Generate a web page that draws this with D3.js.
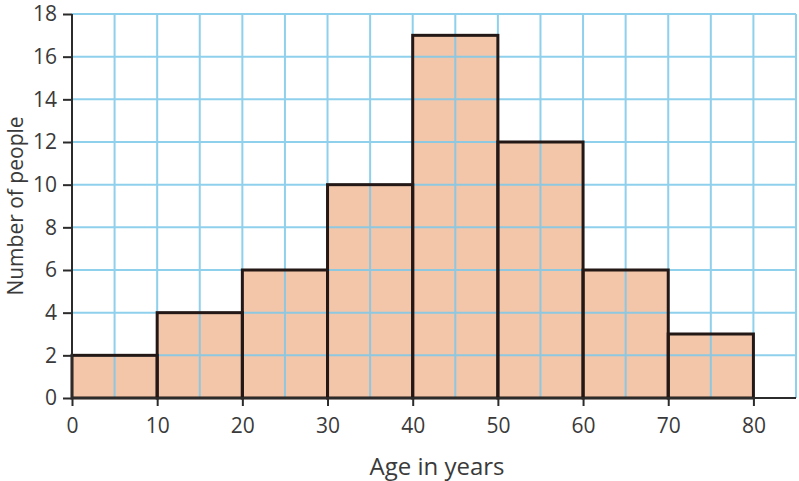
<!DOCTYPE html>
<html><head><meta charset="utf-8">
<script src="https://cdn.jsdelivr.net/npm/d3@7"></script>
<style>body{margin:0;background:#fff;} text{font-family:"Open Sans",sans-serif;}</style>
</head><body>
<svg id="c" width="799" height="481"></svg>
<script>
const binStarts = [0,10,20,30,40,50,60,70];
const binEnds = [10,20,30,40,50,60,70,80];
const counts = [2,4,6,10,17,12,6,3];
const xTicks = [0,10,20,30,40,50,60,70,80];
const yTicks = [0,2,4,6,8,10,12,14,16,18];
const xGrid = d3.range(0,86,5);
const yGrid = d3.range(0,19,2);

const svg = d3.select("#c");
const x = d3.scaleLinear().domain([0,85]).range([72,796]);
const y = d3.scaleLinear().domain([0,18]).range([398,14]);

// bars fill
svg.append("g").selectAll("rect").data(counts).join("rect")
  .attr("x",(d,i)=>x(binStarts[i])).attr("y",d=>y(d))
  .attr("width",(d,i)=>x(binEnds[i])-x(binStarts[i])).attr("height",d=>y(0)-y(d))
  .attr("fill","#f3c6aa");

// grid
const g = svg.append("g").attr("stroke","#7cc8ea").attr("stroke-width",2).attr("opacity",0.85);
g.selectAll(".v").data(xGrid).join("line").attr("x1",d=>x(d)).attr("x2",d=>x(d)).attr("y1",y(0)).attr("y2",y(18));
g.selectAll(".h").data(yGrid).join("line").attr("y1",d=>y(d)).attr("y2",d=>y(d)).attr("x1",x(0)).attr("x2",x(85));

// bar outlines
svg.append("g").selectAll("rect").data(counts).join("rect")
  .attr("x",(d,i)=>x(binStarts[i])).attr("y",d=>y(d))
  .attr("width",(d,i)=>x(binEnds[i])-x(binStarts[i])).attr("height",d=>y(0)-y(d))
  .attr("fill","none").attr("stroke","#231815").attr("stroke-width",3);

// axes
const xa = svg.append("g").attr("transform",`translate(0,${y(0)})`)
  .call(d3.axisBottom(x).tickValues(xTicks).tickSize(8).tickPadding(12).tickFormat(d3.format("d")));
const ya = svg.append("g").attr("transform",`translate(${x(0)},0)`)
  .call(d3.axisLeft(y).tickValues(yTicks).tickSize(9).tickPadding(6).tickFormat(d3.format("d")));
[xa,ya].forEach(a=>{
  a.select(".domain").attr("stroke","#2b2b2b").attr("stroke-width",2);
  a.selectAll(".tick line").attr("stroke","#2b2b2b").attr("stroke-width",2);
  a.selectAll(".tick text").attr("fill","#3a3a3a").style("font-size","21px");
});
xa.select(".domain").attr("d",`M${x(0)},0H${x(85)}`);
ya.select(".domain").attr("d",`M0,${y(0)}V${y(18)}`);

svg.append("text").attr("x",437).attr("y",475).attr("text-anchor","middle")
  .attr("fill","#3a3a3a").style("font-size","24px").text("Age in years");
svg.append("text").attr("transform",`translate(23,${(y(0)+y(18))/2}) rotate(-90)`).attr("text-anchor","middle")
  .attr("fill","#3a3a3a").style("font-size","21px").text("Number of people");
</script>
</body></html>
